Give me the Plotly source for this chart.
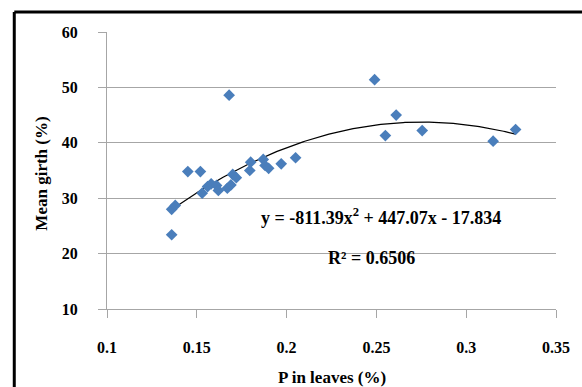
import plotly.graph_objects as go
import numpy as np

# Leaf phosphorus (%) and mean girth (%) observations
p_leaves = [0.136, 0.136, 0.138, 0.145, 0.152, 0.153, 0.156, 0.158, 0.161, 0.162,
            0.167, 0.168, 0.169, 0.170, 0.172, 0.1795, 0.180, 0.187, 0.188, 0.190,
            0.197, 0.205, 0.249, 0.255, 0.261, 0.2755, 0.315, 0.3275]
mean_girth = [23.4, 28.0, 28.7, 34.8, 34.8, 30.9, 32.1, 32.6, 32.3, 31.4,
              31.8, 48.6, 32.4, 34.3, 33.7, 35.0, 36.5, 37.0, 35.9, 35.4,
              36.2, 37.3, 51.4, 41.3, 45.0, 42.2, 40.3, 42.4]

# Polynomial trendline coefficients (a*x^2 + b*x + c) and R squared
trend_coef = [-811.39, 447.07, -17.834]
r_squared = 0.6506

x_ticks = [0.1, 0.15, 0.2, 0.25, 0.3, 0.35]
x_tick_text = ["0.1", "0.15", "0.2", "0.25", "0.3", "0.35"]
y_ticks = [10, 20, 30, 40, 50, 60]

font_family = "Liberation Serif"
grid_col = "#A6A6A6"

fx = np.linspace(min(p_leaves), max(p_leaves), 200)
fy = trend_coef[0] * fx ** 2 + trend_coef[1] * fx + trend_coef[2]

fig = go.Figure()
fig.add_trace(go.Scatter(
    x=fx, y=fy, mode="lines",
    line=dict(color="black", width=1.2),
    hoverinfo="skip", showlegend=False,
))
fig.add_trace(go.Scatter(
    x=p_leaves, y=mean_girth, mode="markers",
    marker=dict(symbol="diamond", size=9, color="#4A7EBB",
                line=dict(width=0)),
    showlegend=False,
))

axis_font = dict(family=font_family, size=16, color="black", weight="bold")

fig.update_layout(
    width=582, height=387,
    margin=dict(l=107, r=15, t=32, b=78),
    plot_bgcolor="white", paper_bgcolor="white",
    xaxis=dict(
        range=[0.1, 0.35], tickvals=x_ticks, ticktext=x_tick_text,
        showgrid=False, zeroline=False,
        showline=True, linecolor=grid_col, linewidth=1,
        ticks="outside", ticklen=8, tickcolor=grid_col,
        tickfont=axis_font, ticklabelstandoff=16,
    ),
    yaxis=dict(
        range=[10, 60], tickvals=y_ticks,
        showgrid=True, gridcolor=grid_col, gridwidth=1, zeroline=False,
        showline=True, linecolor=grid_col, linewidth=1,
        ticks="outside", ticklen=8, tickcolor=grid_col,
        tickfont=axis_font, ticklabelstandoff=17,
    ),
)

bold = dict(family=font_family, size=17, color="black")
fig.add_annotation(
    text="<b>P in leaves (%)</b>", xref="paper", yref="paper",
    x=0.5, y=(309 - 377) / 277, showarrow=False, font=bold,
    xanchor="center", yanchor="middle",
)
fig.add_annotation(
    text="<b>Mean girth (%)</b>", xref="paper", yref="paper",
    x=(39 - 107) / 460, y=(309 - 174) / 277, showarrow=False, font=bold,
    textangle=-90, xanchor="center", yanchor="middle",
)

eq_text = "<b>y = {:.2f}x<sup>2</sup> + {:.2f}x - {:.3f}</b>".format(
    trend_coef[0], trend_coef[1], abs(trend_coef[2]))
fig.add_annotation(
    text=eq_text, xref="paper", yref="paper",
    x=(388 - 107) / 460, y=(309 - 217) / 277, showarrow=False,
    font=dict(family=font_family, size=18, color="black"),
    xanchor="center", yanchor="middle",
)
fig.add_annotation(
    text="<b>R² = {:.4f}</b>".format(r_squared), xref="paper", yref="paper",
    x=(378 - 107) / 460, y=(309 - 258) / 277, showarrow=False,
    font=dict(family=font_family, size=18, color="black"),
    xanchor="center", yanchor="middle",
)

# Chart frame (left and top edges inside the canvas)
fig.add_shape(type="line", xref="paper", yref="paper",
              x0=(12 - 107) / 460, x1=(600 - 107) / 460,
              y0=(309 - 12) / 277, y1=(309 - 12) / 277,
              line=dict(color="black", width=3))
fig.add_shape(type="line", xref="paper", yref="paper",
              x0=(12 - 107) / 460, x1=(12 - 107) / 460,
              y0=(309 - 12) / 277, y1=(309 - 400) / 277,
              line=dict(color="black", width=3))

fig.write_html("out.html")
